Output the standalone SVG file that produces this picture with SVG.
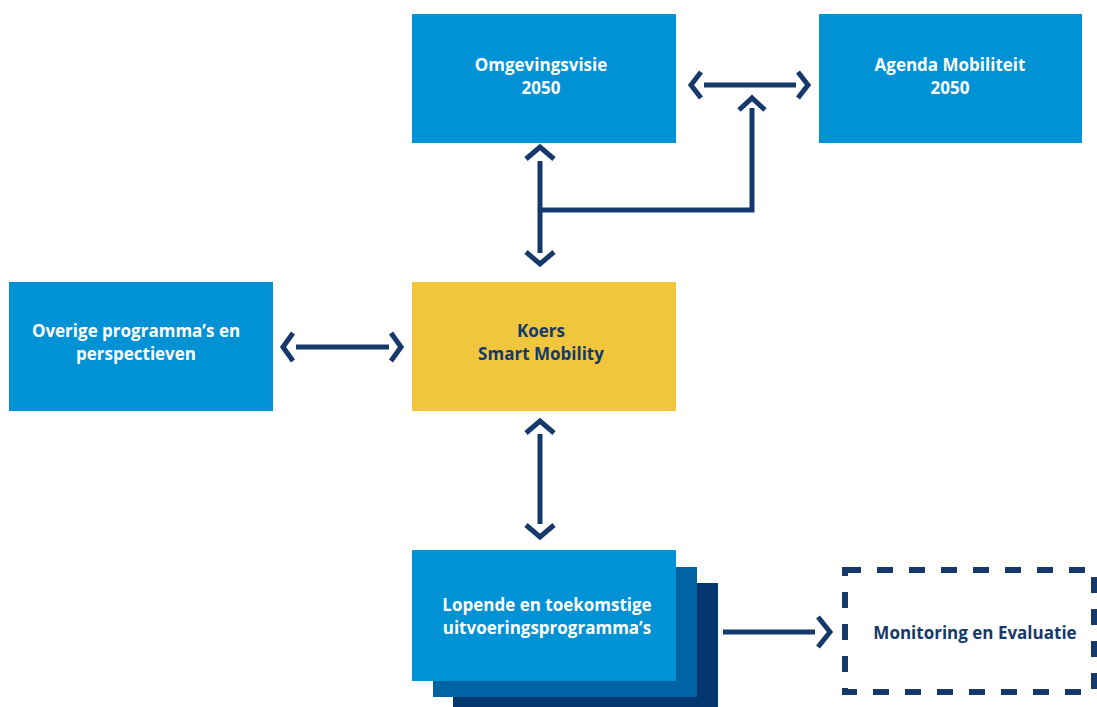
<svg xmlns="http://www.w3.org/2000/svg" width="1097" height="707" viewBox="0 0 1097 707">
  <style>
    .box { fill: #0092d5; }
    .koers { fill: #efc63c; }
    .layer2 { fill: #0063a3; }
    .layer3 { fill: #04366f; }
    .lbl { font-family: "Open Sans", "Liberation Sans", sans-serif; font-weight: 700; font-size: 17px; text-anchor: middle; }
    .w { fill: #ffffff; }
    .n { fill: #16396b; }
    .ln { fill: none; stroke: #16396b; stroke-width: 5; }
    .hd { fill: none; stroke: #16396b; stroke-width: 5; stroke-linejoin: miter; stroke-linecap: butt; }
    .dash { fill: none; stroke: #16396b; stroke-width: 6; stroke-dasharray: 16 16; }
  </style>
  <rect width="1097" height="707" fill="#ffffff"/>

  <g id="omgevingsvisie">
    <rect class="box" x="412" y="14" width="264" height="129"/>
    <text class="lbl w" x="541" y="71">Omgevingsvisie</text>
    <text class="lbl w" x="541" y="94">2050</text>
  </g>

  <g id="agenda-mobiliteit">
    <rect class="box" x="819" y="14" width="263" height="129"/>
    <text class="lbl w" x="950" y="71">Agenda Mobiliteit</text>
    <text class="lbl w" x="950" y="94">2050</text>
  </g>

  <g id="overige-programmas">
    <rect class="box" x="9" y="282" width="264" height="129"/>
    <text class="lbl w" x="136" y="337">Overige programma’s en</text>
    <text class="lbl w" x="136" y="360">perspectieven</text>
  </g>

  <g id="koers">
    <rect class="koers" x="412" y="282" width="264" height="129"/>
    <text class="lbl n" x="541" y="337">Koers</text>
    <text class="lbl n" x="541" y="360">Smart Mobility</text>
  </g>

  <g id="uitvoeringsprogrammas">
    <rect class="layer3" x="453" y="583" width="265" height="130"/>
    <rect class="layer2" x="433" y="567" width="264" height="130"/>
    <rect class="box" x="412" y="550" width="264" height="131"/>
    <text class="lbl w" x="547" y="611">Lopende en toekomstige</text>
    <text class="lbl w" x="547" y="634">uitvoeringsprogramma’s</text>
  </g>

  <g id="monitoring">
    <path class="dash" d="M845 570 H1094 V692 H845 Z"/>
    <text class="lbl n" x="975" y="639">Monitoring en Evaluatie</text>
  </g>

  <g id="connectors">
    <!-- Omgevingsvisie <-> Agenda Mobiliteit -->
    <line class="ln" x1="704" y1="85" x2="796" y2="85"/>
    <polyline class="hd" points="701,72 691,85 701,98"/>
    <polyline class="hd" points="798,72 808,85 798,98"/>

    <!-- branch from the vertical into the horizontal link -->
    <polyline class="ln" points="540,210 752,210 752,108"/>
    <polyline class="hd" points="739,110 752,98 765,110"/>

    <!-- Omgevingsvisie <-> Koers -->
    <line class="ln" x1="540" y1="161" x2="540" y2="253"/>
    <polyline class="hd" points="526,159 540,147 554,159"/>
    <polyline class="hd" points="526,252 540,264 554,252"/>

    <!-- Overige <-> Koers -->
    <line class="ln" x1="296" y1="347" x2="389" y2="347"/>
    <polyline class="hd" points="293,333 283,347 293,361"/>
    <polyline class="hd" points="391,333 401,347 391,361"/>

    <!-- Koers <-> uitvoeringsprogramma's -->
    <line class="ln" x1="540" y1="434" x2="540" y2="524"/>
    <polyline class="hd" points="526,433 540,421 554,433"/>
    <polyline class="hd" points="526,525 540,537 554,525"/>

    <!-- uitvoeringsprogramma's -> Monitoring -->
    <line class="ln" x1="723" y1="632" x2="815" y2="632"/>
    <polyline class="hd" points="818,617 830,632 818,647"/>
  </g>
</svg>
